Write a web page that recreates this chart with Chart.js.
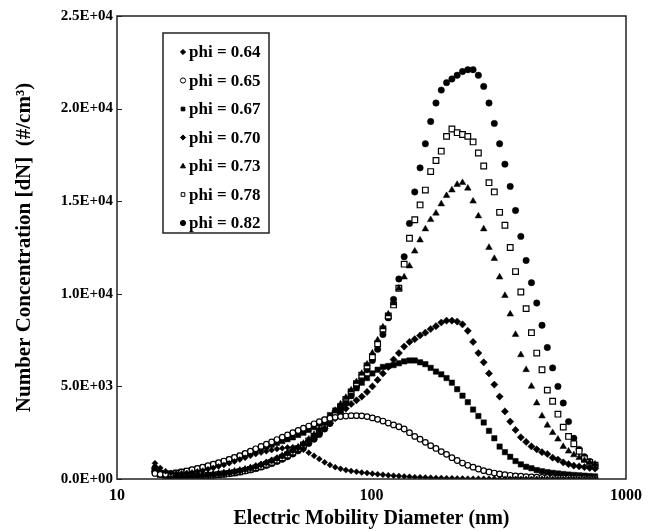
<!DOCTYPE html>
<html><head><meta charset="utf-8">
<script src="https://cdn.jsdelivr.net/npm/chart.js@4.4.1/dist/chart.umd.min.js"></script>
<style>html,body{margin:0;padding:0;background:#fff;}canvas{display:block;}</style>
</head><body>
<canvas id="c" width="649" height="531"></canvas>
<script>
// Electric mobility diameter channels (nm)
const diameters = [14.1,14.79,15.52,16.28,17.08,17.92,18.8,19.72,20.7,21.71,22.78,23.9,
25.07,26.3,27.6,28.95,30.38,31.87,33.44,35.08,36.81,38.62,40.51,42.51,
44.6,46.77,49.08,51.49,54.02,56.68,59.47,62.37,65.45,68.66,72.03,75.58,
79.3,83.18,87.29,91.57,96.05,100.8,105.7,110.9,116.4,122.1,128.1,134.4,
141,147.9,155.2,162.8,170.8,179.2,188,197.2,207,217.1,227.8,239,
250.7,263,276,289.5,303.8,318.7,334.4,350.8,368.1,386.2,405.1,425.1,
446,467.7,490.8,514.9,540.2,566.8,594.7,623.7,654.5,686.6,720.3,755.8];

const phi064 = [850,600,420,330,300,300,320,350,400,450,520,600,
680,760,850,950,1050,1150,1250,1350,1430,1500,1560,1620,
1660,1700,1720,1680,1580,1420,1250,1080,900,760,640,550,
480,430,390,350,320,290,260,230,200,180,160,140,
120,100,90,80,70,60,50,40,35,30,25,20,
15,15,10,10,10,5,5,5,5,5,0,0,
0,0,0,0,0,0,0,0,0,0,0,0];
const phi065 = [300,250,250,280,320,370,430,500,570,640,720,800,
880,970,1060,1160,1260,1380,1500,1630,1760,1880,2000,2130,
2260,2380,2500,2620,2740,2860,2980,3100,3200,3280,3330,3370,
3400,3420,3420,3410,3370,3300,3220,3130,3020,2920,2820,2700,
2500,2300,2150,1980,1800,1650,1480,1330,1150,1000,860,740,
640,540,450,380,320,270,230,200,170,150,130,115,
100,90,80,70,60,55,50,45,40,35,30,25];
const phi067 = [450,300,280,300,350,400,450,500,560,620,700,780,
860,950,1050,1150,1250,1350,1450,1550,1650,1750,1850,1950,
2050,2150,2250,2380,2500,2650,2800,3000,3200,3450,3700,3900,
4100,4500,4900,5200,5450,5700,5900,6050,6100,6150,6250,6350,
6400,6400,6300,6200,6000,5800,5650,5450,5200,4850,4500,4150,
3750,3400,3050,2600,2200,1750,1450,1200,970,790,660,580,
480,420,370,330,300,270,240,220,200,180,160,140];
const phi070 = [400,250,150,100,100,100,120,140,160,180,200,230,
260,290,330,380,440,510,590,680,780,890,1000,1120,
1250,1400,1550,1700,1870,2050,2250,2480,2730,3000,3280,3550,
3800,4050,4250,4450,4700,5000,5350,5700,6050,6450,6800,7150,
7400,7550,7750,7900,8100,8250,8450,8550,8550,8500,8350,8000,
7400,6800,6300,5700,5100,4450,3650,3100,2650,2250,2000,1760,
1600,1450,1350,1150,1050,900,800,720,680,640,600,560];
const phi073 = [500,300,200,150,130,130,150,170,190,210,240,270,
300,340,380,420,470,530,600,680,770,870,980,1100,
1230,1380,1540,1720,1920,2150,2400,2680,3000,3350,3700,4050,
4400,4800,5250,5700,6200,6800,7500,8200,8900,9500,10300,10900,
11500,12300,12900,13500,14000,14350,14850,15300,15600,15900,16000,15700,
15000,14200,13500,12500,11900,10900,9900,8900,7800,6700,5900,5000,
4100,3400,2900,2500,2150,1750,1500,1300,1150,1000,900,800];
const phi078 = [450,250,150,120,100,100,110,130,150,170,190,210,
240,270,300,340,390,450,520,600,690,790,900,1020,
1150,1300,1460,1640,1840,2060,2300,2580,2880,3200,3550,3900,
4300,4700,5150,5600,6100,6600,7300,8100,8800,9400,10300,11600,
13000,14000,14800,15600,16600,17200,17700,18500,18900,18700,18600,18500,
18200,17600,16900,16000,15500,14400,13700,12500,11200,10100,9200,7900,
6800,5900,4800,4200,3500,2800,2300,1900,1500,1100,900,750];
const phi082 = [600,350,200,150,120,110,110,120,140,160,180,200,
230,260,290,330,380,430,490,560,640,730,830,940,
1060,1200,1350,1520,1710,1920,2150,2400,2700,3000,3350,3700,
4100,4500,4950,5400,5900,6400,7000,7800,8700,9700,10800,12000,
13800,15500,16800,18100,19300,20300,21000,21400,21600,21800,22000,22100,
22100,21800,21200,20300,19200,18100,17000,15800,14500,13100,11800,10600,
9500,8300,7100,6000,5000,4100,3100,2200,1600,1200,950,750];

const seriesLabels = ['phi = 0.64','phi = 0.65','phi = 0.67','phi = 0.70','phi = 0.73','phi = 0.78','phi = 0.82'];
const seriesValues = [phi064, phi065, phi067, phi070, phi073, phi078, phi082];
const pointStyles = ['rectRot','circle','rect','rectRot','triangle','rect','circle'];
const filledMarks = [true,false,true,true,true,false,true];
const markRadius = [3,2.8,3.8,3.6,3.8,4,3.2];

const xTickValues = [10,100,1000];
const xTickLabels = ['10','100','1000'];
const yTickValues = [0,5000,10000,15000,20000,25000];
const yTickLabels = ['0.0E+00','5.0E+03','1.0E+04','1.5E+04','2.0E+04','2.5E+04'];

const FONT = "'Liberation Serif','Times New Roman',serif";

function drawMark(ctx, style, x, y, r, fill){
  ctx.beginPath();
  if (style === 'circle') ctx.arc(x, y, r, 0, Math.PI*2);
  else if (style === 'rect') { const s = r*Math.SQRT1_2; ctx.rect(x-s, y-s, 2*s, 2*s); }
  else if (style === 'rectRot') { ctx.moveTo(x, y-r); ctx.lineTo(x+r, y); ctx.lineTo(x, y+r); ctx.lineTo(x-r, y); ctx.closePath(); }
  else if (style === 'triangle') { ctx.moveTo(x, y-r); ctx.lineTo(x+r*0.95, y+r*0.7); ctx.lineTo(x-r*0.95, y+r*0.7); ctx.closePath(); }
  ctx.fillStyle = fill ? '#000' : '#fff';
  ctx.fill();
  ctx.lineWidth = 1;
  ctx.strokeStyle = '#000';
  ctx.stroke();
}

const framePlugin = {
  id: 'frame',
  afterDraw(chart){
    const {ctx, chartArea: a, scales} = chart;
    ctx.save();
    ctx.strokeStyle = '#222';
    ctx.lineWidth = 1.5;
    ctx.strokeRect(a.left, a.top, a.right - a.left, a.bottom - a.top);
    ctx.lineWidth = 1;
    yTickValues.forEach(v => {
      const py = Math.round(scales.y.getPixelForValue(v)) + 0.5;
      ctx.beginPath(); ctx.moveTo(a.left, py); ctx.lineTo(a.left + 5, py); ctx.stroke();
    });
    ctx.restore();
  }
};

const legendPlugin = {
  id: 'boxLegend',
  afterDraw(chart){
    const {ctx, chartArea: a} = chart;
    const bx = a.left + 46, by = a.top + 17, bw = 106, bh = 200;
    ctx.save();
    ctx.fillStyle = '#fff';
    ctx.fillRect(bx, by, bw, bh);
    ctx.strokeStyle = '#222';
    ctx.lineWidth = 1.5;
    ctx.strokeRect(bx, by, bw, bh);
    ctx.font = 'bold 17px ' + FONT;
    ctx.textBaseline = 'middle';
    ctx.textAlign = 'left';
    seriesLabels.forEach((lab, i) => {
      const y = by + 19 + i*28.5;
      drawMark(ctx, pointStyles[i], bx + 20, y, 2.6, filledMarks[i]);
      ctx.fillStyle = '#000';
      ctx.fillText(lab, bx + 26, y + 1);
    });
    ctx.restore();
  }
};

new Chart(document.getElementById('c').getContext('2d'), {
  type: 'scatter',
  data: {
    datasets: seriesLabels.map((lab, i) => ({
      label: lab,
      data: diameters.map((d, j) => ({x: d, y: seriesValues[i][j]})),
      pointStyle: pointStyles[i],
      pointRadius: markRadius[i],
      backgroundColor: filledMarks[i] ? '#000' : '#fff',
      borderColor: '#000',
      borderWidth: filledMarks[i] ? 0.5 : 1.2,
      showLine: false
    }))
  },
  options: {
    responsive: false,
    animation: false,
    devicePixelRatio: 1,
    layout: {padding: {top: 16, right: 17, left: 0, bottom: 0}},
    plugins: {legend: {display: false}, tooltip: {enabled: false}},
    scales: {
      x: {
        type: 'logarithmic', min: 10, max: 1000,
        afterBuildTicks: s => { s.ticks = xTickValues.map(v => ({value: v})); },
        afterFit: s => { s.height = 52; },
        ticks: {
          callback: v => { const k = xTickValues.indexOf(v); return k >= 0 ? xTickLabels[k] : ''; },
          color: '#000', font: {family: FONT, size: 16, weight: 'bold'}, padding: 7,
          maxRotation: 0, autoSkip: false
        },
        grid: {display: false, drawTicks: false},
        border: {display: false},
        title: {display: true, text: 'Electric Mobility Diameter (nm)', color: '#000',
          font: {family: FONT, size: 20, weight: 'bold'}, padding: {top: 0, bottom: 0}}
      },
      y: {
        min: 0, max: 25000,
        afterBuildTicks: s => { s.ticks = yTickValues.map(v => ({value: v})); },
        afterFit: s => { s.width = 117; },
        ticks: {
          callback: v => { const k = yTickValues.indexOf(v); return k >= 0 ? yTickLabels[k] : ''; },
          color: '#000', font: {family: FONT, size: 15, weight: 'bold'}, padding: 4
        },
        grid: {display: false, drawTicks: false},
        border: {display: false},
        title: {display: true, text: 'Number Concentration [dN]  (#/cm³)', color: '#000',
          font: {family: FONT, size: 21, weight: 'bold'}, padding: {top: 12, bottom: 0}}
      }
    }
  },
  plugins: [framePlugin, legendPlugin]
});
</script>
</body></html>
